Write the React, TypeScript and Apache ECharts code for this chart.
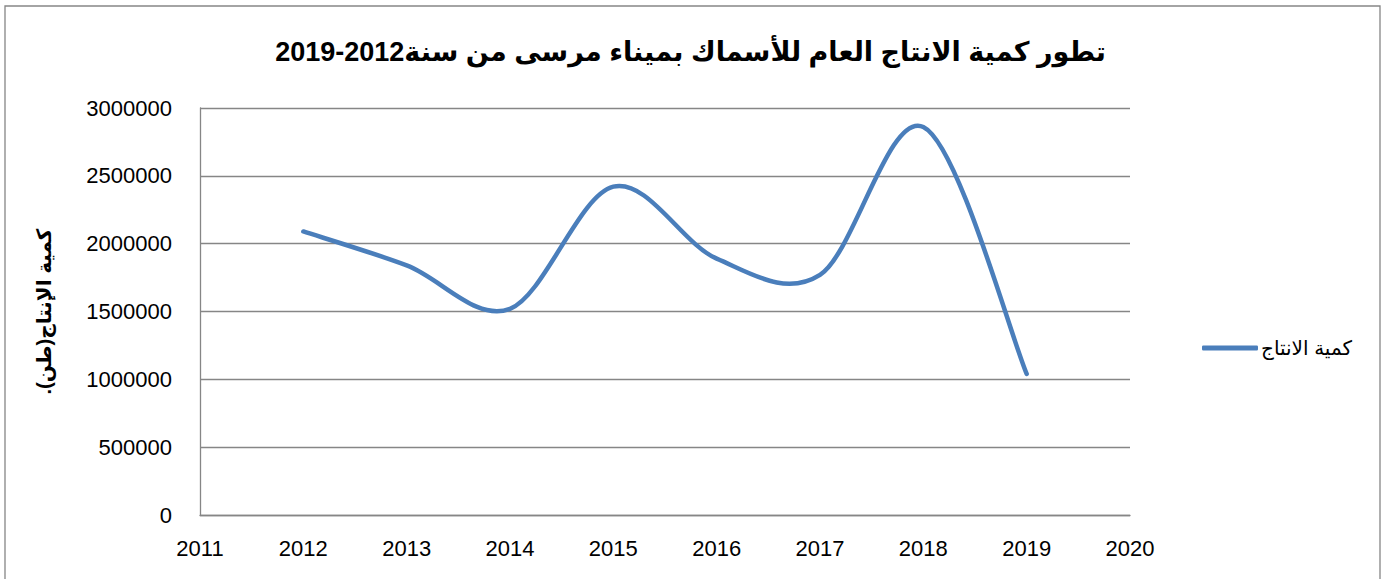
import React, { useEffect, useRef } from "react";
import * as echarts from "echarts";

const years = [2012, 2013, 2014, 2015, 2016, 2017, 2018, 2019];
const production = [2090000, 1840000, 1520000, 2420000, 1890000, 1770000, 2860000, 1040000];
const titleText = "تطور كمية الانتاج العام للأسماك بميناء مرسى من سنة2012-2019";
const yAxisName = "كمية الإنتاج(طن).\u200F";
const seriesName = "كمية الانتاج";
const lineColor = "#4A7EBB";

export default function App() {
  const ref = useRef<HTMLDivElement>(null);
  useEffect(() => {
    if (!ref.current) return;
    const chart = echarts.init(ref.current, undefined, { renderer: "svg" });
    const grey = "#868686";
    const font = "'Liberation Sans', Arial, 'DejaVu Sans', sans-serif";
    chart.setOption({
      animation: false,
      backgroundColor: "#ffffff",
      title: {
        text: titleText,
        left: "center",
        top: 33,
        textStyle: { fontSize: 27, fontWeight: "bold", color: "#000", fontFamily: font },
      },
      graphic: [
        {
          type: "rect",
          shape: { x: 5, y: 6, width: 1375, height: 620 },
          style: { fill: "none", stroke: grey, lineWidth: 1.3 },
          silent: true,
          z: -1,
        },
      ],
      legend: {
        left: 1197,
        top: 333,
        icon: "roundRect",
        itemWidth: 56,
        itemHeight: 5,
        textStyle: { fontSize: 20, color: "#000", fontFamily: font, padding: [0, 0, 0, -2] },
        data: [{ name: seriesName, itemStyle: { color: lineColor } }],
      },
      grid: { left: 200, right: 251, top: 108, bottom: 64, containLabel: false },
      xAxis: {
        type: "value",
        min: 2011,
        max: 2020,
        interval: 1,
        axisLine: { show: true, lineStyle: { color: grey, width: 1.3 } },
        axisTick: { show: false },
        splitLine: { show: false },
        axisLabel: {
          color: "#000",
          fontSize: 22,
          fontFamily: font,
          margin: 22,
          formatter: (v: number) => String(v),
        },
      },
      yAxis: {
        type: "value",
        min: 0,
        max: 3000000,
        interval: 500000,
        name: yAxisName,
        nameLocation: "middle",
        nameGap: 146,
        nameRotate: 90,
        nameTextStyle: { fontSize: 20, fontWeight: "bold", color: "#000", fontFamily: font },
        axisLine: { show: true, lineStyle: { color: grey, width: 1.3 } },
        axisTick: { show: false },
        splitLine: { show: true, lineStyle: { color: grey, width: 1.3 } },
        axisLabel: {
          color: "#000",
          fontSize: 22,
          fontFamily: font,
          margin: 28,
          formatter: (v: number) => String(v),
        },
      },
      series: [
        {
          name: seriesName,
          type: "custom",
          coordinateSystem: "cartesian2d",
          itemStyle: { color: lineColor },
          data: years.map((y, i) => [y, production[i]]),
          encode: { x: 0, y: 1 },
          renderItem: (params: any, api: any) => {
            if (params.dataIndex !== 0) return null;
            const pts = years.map((y, i) => api.coord([y, production[i]]));
            const n = pts.length;
            const P = (k: number) => pts[Math.max(0, Math.min(n - 1, k))];
            let d = `M${pts[0][0]},${pts[0][1]}`;
            for (let i = 0; i < n - 1; i++) {
              const p0 = P(i - 1), p1 = P(i), p2 = P(i + 1), p3 = P(i + 2);
              const c1x = p1[0] + (p2[0] - p0[0]) / 6;
              const c1y = p1[1] + (p2[1] - p0[1]) / 6;
              const c2x = p2[0] - (p3[0] - p1[0]) / 6;
              const c2y = p2[1] - (p3[1] - p1[1]) / 6;
              d += ` C${c1x},${c1y} ${c2x},${c2y} ${p2[0]},${p2[1]}`;
            }
            return {
              type: "path",
              shape: { pathData: d },
              style: {
                fill: "none",
                stroke: lineColor,
                lineWidth: 4.5,
                lineCap: "round",
                lineJoin: "round",
              },
            };
          },
        },
      ],
    });
    return () => chart.dispose();
  }, []);
  return (
    <div
      ref={ref}
      style={{ position: "fixed", left: 0, top: 0, width: 1381, height: 579 }}
    />
  );
}
